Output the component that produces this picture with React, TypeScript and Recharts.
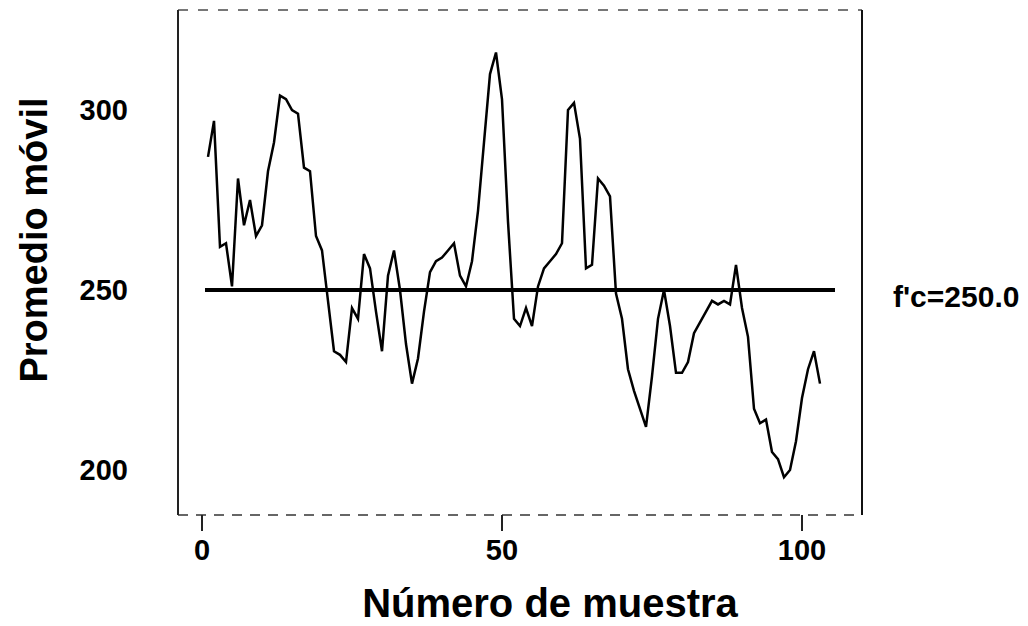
import { LineChart, Line, XAxis, YAxis, ReferenceLine } from "recharts";

// promedio móvil leído muestra por muestra (1..103)
const movingAvg = [
  287, 297, 262, 263, 251, 281, 268, 275, 265, 268,
  283, 291, 304, 303, 300, 299, 284, 283, 265, 261,
  247, 233, 232, 230, 245, 242, 260, 256, 244, 233,
  254, 261, 250, 235, 224, 231, 244, 255, 258, 259,
  261, 263, 254, 251, 258, 272, 291, 310, 316, 303,
  269, 242, 240, 245, 240, 251, 256, 258, 260, 263,
  300, 302, 292, 256, 257, 281, 279, 276, 249, 242,
  228, 222, 217, 212, 226, 242, 250, 240, 227, 227,
  230, 238, 241, 244, 247, 246, 247, 246, 257, 245,
  237, 217, 213, 214, 205, 203, 198, 200, 208, 220,
  228, 233, 224,
];
const sampleNumbers = movingAvg.map((_, i) => i + 1);

const xTicks = [0, 50, 100];
const yTicks = [200, 250, 300];
const fcValue = 250;
const fcLabel = "f'c=250.0";

const data = sampleNumbers.map((n, i) => ({ n, avg: movingAvg[i] }));

const font = "'Liberation Sans', Arial, sans-serif";

const App = () => {
  return (
    <div style={{ position: "absolute", left: 0, top: 0, background: "#fff" }}>
      <LineChart
        width={1028}
        height={626}
        data={data}
        margin={{ top: 10, right: 166, bottom: 11, left: 0 }}
      >
        <XAxis
          dataKey="n"
          type="number"
          domain={[-4, 110]}
          ticks={xTicks}
          height={100}
          axisLine={{ stroke: "#666", strokeWidth: 2, strokeDasharray: "10 8" }}
          tickLine={{ stroke: "#222", strokeWidth: 2 }}
          tickSize={16}
          tickMargin={8}
          tick={{ fill: "#000", fontSize: 29, fontWeight: "bold", fontFamily: font }}
          label={{
            content: () => (
              <text x={550} y={617} textAnchor="middle" fill="#000" fontSize={40}
                fontWeight="bold" fontFamily={font}>
                Número de muestra
              </text>
            ),
          }}
        />
        <YAxis
          type="number"
          domain={[187.5, 327.8]}
          ticks={yTicks}
          width={178}
          allowDataOverflow
          axisLine={{ stroke: "#222", strokeWidth: 2 }}
          tickLine={false}
          tickSize={0}
          tickMargin={50}
          tick={{ fill: "#000", fontSize: 29, fontWeight: "bold", fontFamily: font }}
          label={{
            content: () => (
              <text x={47} y={240} transform="rotate(-90, 47, 240)" textAnchor="middle"
                fill="#000" fontSize={38} fontWeight="bold" fontFamily={font}>
                Promedio móvil
              </text>
            ),
          }}
        />
        <ReferenceLine y={327.8} stroke="#777" strokeWidth={2} strokeDasharray="10 10" />
        <ReferenceLine x={110} stroke="#111" strokeWidth={2} />
        <ReferenceLine
          segment={[{ x: 0.5, y: fcValue }, { x: 105.5, y: fcValue }]}
          stroke="#000"
          strokeWidth={4}
          label={{
            content: () => (
              <text x={893} y={307} textAnchor="start" fill="#000" fontSize={30}
                fontWeight="bold" fontFamily={font}>
                {fcLabel}
              </text>
            ),
          }}
        />
        <Line
          type="linear"
          dataKey="avg"
          stroke="#000"
          strokeWidth={2.5}
          dot={false}
          isAnimationActive={false}
        />
      </LineChart>
    </div>
  );
};

export default App;
